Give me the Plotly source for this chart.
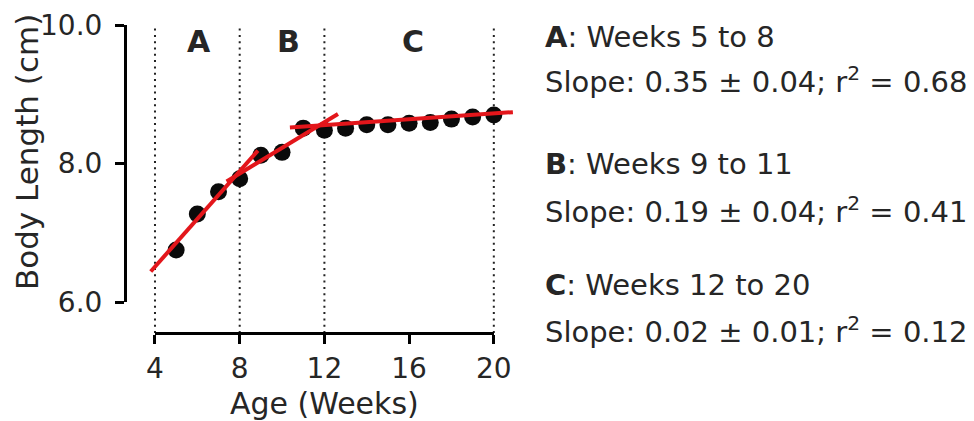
import plotly.graph_objects as go

# ---------------- data ----------------
weeks = [5, 6, 7, 8, 9, 10, 11, 12, 13, 14, 15, 16, 17, 18, 19, 20]
body_length = [6.75, 7.27, 7.59, 7.78, 8.12, 8.16, 8.51, 8.48, 8.51, 8.56,
               8.56, 8.58, 8.59, 8.64, 8.67, 8.70]

segment_names = ["A", "B", "C"]
fit_slope = [0.345, 0.185, 0.021]
fit_intercept = [5.129, 6.375, 8.302]
fit_x_start = [3.8, 7.38, 10.37]
fit_x_end = [8.86, 12.64, 20.9]
segment_label_x = [6.1, 10.3, 16.2]
segment_label_y = 9.76

divider_weeks = [4, 8, 12, 20]

x_ticks = [4, 8, 12, 16, 20]
y_ticks = [6, 8, 10]

summary_header = ["<b>A</b>: Weeks 5 to 8", "<b>B</b>: Weeks 9 to 11", "<b>C</b>: Weeks 12 to 20"]
summary_slope = ["Slope: 0.35 \u00b1 0.04; r<sup>2</sup> = 0.68",
                 "Slope: 0.19 \u00b1 0.04; r<sup>2</sup> = 0.41",
                 "Slope: 0.02 \u00b1 0.01; r<sup>2</sup> = 0.12"]

# ---------------- layout geometry ----------------
W, H = 974, 421
L, R, T, B = 125, 458.8, 18, 88
pw, ph = W - L - R, H - T - B
x_range = [2.584, 21.0]
y_range = [5.552, 10.1]

def px_x(p):
    return (p - L) / pw

def px_y(p):
    return (H - B - p) / ph

FONT = "DejaVu Sans"
TXT = "#262626"
RED = "#e3161b"

fig = go.Figure()

# data points
fig.add_trace(go.Scatter(x=weeks, y=body_length, mode="markers",
                         marker=dict(color="#0a0a0a", size=17), showlegend=False))

# fit lines
for s, b, x0, x1 in zip(fit_slope, fit_intercept, fit_x_start, fit_x_end):
    fig.add_trace(go.Scatter(x=[x0, x1], y=[s * x0 + b, s * x1 + b], mode="lines",
                             line=dict(color=RED, width=4), showlegend=False,
                             hoverinfo="skip"))

# dummy trace for offset axes
fig.add_trace(go.Scatter(x=[None], y=[None], xaxis="x2", yaxis="y2",
                         showlegend=False, hoverinfo="skip"))

# dotted dividers
for wk in divider_weeks:
    fig.add_shape(type="line", xref="x", yref="y", x0=wk, x1=wk, y0=y_range[0], y1=10.0,
                  line=dict(color="#222222", width=2, dash="2px,4.3px"), layer="below")

# segment labels
for name, lx in zip(segment_names, segment_label_x):
    fig.add_annotation(x=lx, y=segment_label_y, xref="x", yref="y", text="<b>%s</b>" % name,
                       showarrow=False, font=dict(family=FONT, size=30, color=TXT))

# summary text
header_y = [37, 164, 285]
slope_y = [80, 210, 330]
for hdr, slp, hy, sy in zip(summary_header, summary_slope, header_y, slope_y):
    fig.add_annotation(x=px_x(543), y=px_y(hy), xref="paper", yref="paper", text=hdr,
                       showarrow=False, xanchor="left", yanchor="middle",
                       font=dict(family=FONT, size=29, color=TXT))
    fig.add_annotation(x=px_x(543), y=px_y(sy), xref="paper", yref="paper", text=slp,
                       showarrow=False, xanchor="left", yanchor="middle",
                       font=dict(family=FONT, size=29, color=TXT))

# y title
fig.add_annotation(x=px_x(27), y=px_y(152), xref="paper", yref="paper",
                   text="Body Length (cm)", textangle=-90, showarrow=False,
                   xanchor="center", yanchor="middle",
                   font=dict(family=FONT, size=31, color=TXT))

axis_common = dict(showgrid=False, zeroline=False, showline=True, linecolor="black",
                   linewidth=3, ticks="outside", ticklen=9, tickwidth=3, tickcolor="black",
                   automargin=False,
                   tickfont=dict(family=FONT, size=28, color=TXT))

fig.update_layout(
    width=W, height=H,
    margin=dict(l=L, r=R, t=T, b=B, pad=0, autoexpand=False),
    paper_bgcolor="white", plot_bgcolor="rgba(0,0,0,0)",
    xaxis=dict(range=x_range, visible=False, domain=[0, 1], automargin=False),
    yaxis=dict(range=y_range, visible=False, domain=[0, 1], automargin=False),
    xaxis2=dict(range=[4, 20], domain=[(155 - L) / pw, (494 - L) / pw], anchor="free",
                position=0, tickvals=x_ticks,
                title=dict(text="Age (Weeks)",
                           font=dict(family=FONT, size=30, color=TXT),
                           standoff=15),
                **axis_common),
    yaxis2=dict(range=[6, 10], domain=[(H - B - 302) / ph, (H - B - 25) / ph], anchor="free",
                position=0, tickvals=y_ticks, tickformat=".1f", ticklabelstandoff=7,
                **axis_common),
    showlegend=False,
)

fig.write_html("out.html")
